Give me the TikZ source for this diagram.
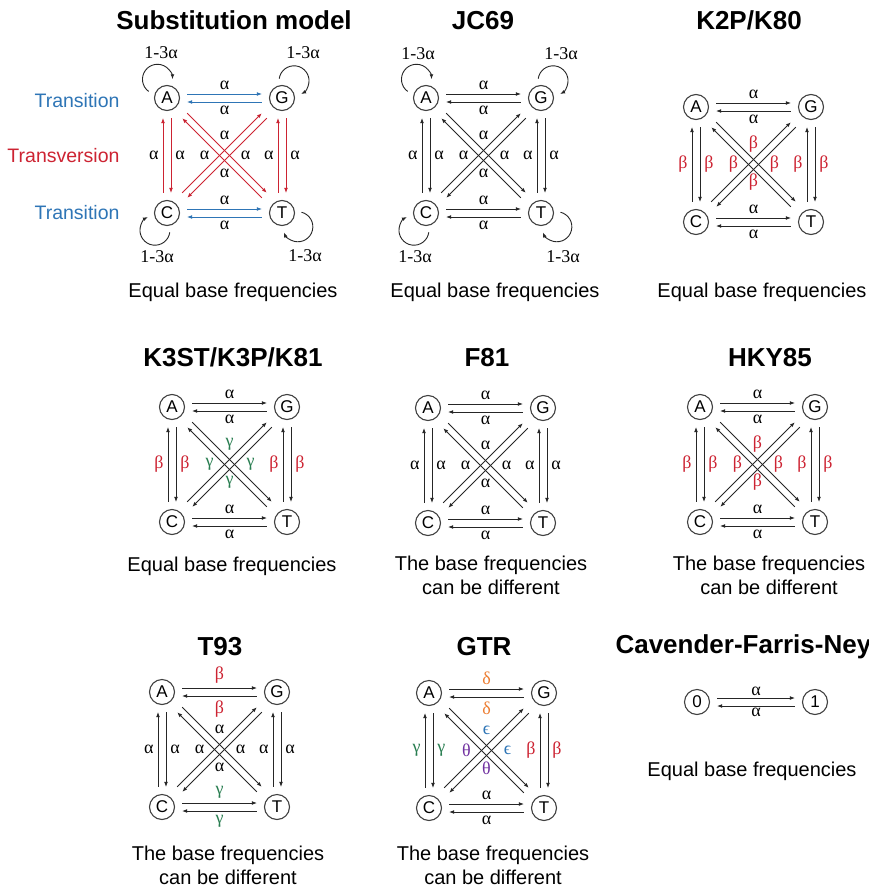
\documentclass[tikz,border=0pt]{standalone}
\usepackage{fontspec}
\setmainfont{Liberation Sans}
\newfontfamily\greekfont{Liberation Serif}
\usetikzlibrary{arrows.meta,calc}

\definecolor{tblue}{RGB}{46,117,182}
\definecolor{tred}{RGB}{205,35,50}
\definecolor{tgreen}{RGB}{40,125,80}
\definecolor{torange}{RGB}{237,125,49}
\definecolor{tpurple}{RGB}{112,48,160}
\definecolor{circ}{RGB}{64,64,64}
\definecolor{arr}{RGB}{38,38,38}

% four bases with the twelve rates between them
% #1 position of A, #2 A-G, #3 C-T, #4 A-C, #5 G-T, #6/#7 the two diagonal labels
\newcommand{\ratesquare}[7]{%
  \node[base] (A) at (#1) {A};
  \node[base] (G) at ($(A)+(115,0)$) {G};
  \node[base] (C) at ($(A)+(0,115)$) {C};
  \node[base] (T) at ($(A)+(115,115)$) {T};
  \coordinate (X) at ($(A)!.5!(T)$);
  % transitions
  \path[rate,ts] (A) edge[transform canvas={yshift=4pt}] node[above]{#2} (G)
                 (G) edge[transform canvas={yshift=-4pt}] node[below]{#2} (A)
                 (C) edge[transform canvas={yshift=4pt}] node[above]{#3} (T)
                 (T) edge[transform canvas={yshift=-4pt}] node[below]{#3} (C);
  % transversions
  \path[rate,tv] (C) edge[transform canvas={xshift=-4pt}] node[left]{#4} (A)
                 (A) edge[transform canvas={xshift=4pt}] node[right]{#4} (C)
                 (T) edge[transform canvas={xshift=-4pt}] node[left]{#5} (G)
                 (G) edge[transform canvas={xshift=4pt}] node[right]{#5} (T);
  \path[rate,tv,shorten >=12pt,shorten <=12pt]
                 (A) edge[transform canvas={xshift=2.5pt,yshift=2.5pt}] (T)
                 (T) edge[transform canvas={xshift=-2.5pt,yshift=-2.5pt}] (A)
                 (C) edge[transform canvas={xshift=-2.5pt,yshift=2.5pt}] (G)
                 (G) edge[transform canvas={xshift=2.5pt,yshift=-2.5pt}] (C);
  \node[lab] (d1) at ($(X)+(0,-20)$) {#6};
  \node[lab] (d2) at ($(X)+(21,0)$) {#6};
  \node[lab] (d3) at ($(X)+(-20,0)$) {#7};
  \node[lab] (d4) at ($(X)+(0,18)$) {#7};
}

% self loop on node #1, bulging towards angle #2
\newcommand{\selfloop}[2]{%
  \pgfmathsetmacro\lpstart{#2+117}%
  \pgfmathsetmacro\lpend{#2-117}%
  \draw[loopar] ($(#1)+(#2:21pt)+(\lpstart:15pt)$) arc[start angle=\lpstart, end angle=\lpend, radius=15pt];
}

\begin{document}
\begin{tikzpicture}[x=1pt,y=-1pt,>={Latex[length=5pt,width=3.8pt]},
    base/.style={circle, draw=circ, line width=1.1pt, minimum size=25pt, inner sep=0pt,
            font=\fontsize{17}{17}\selectfont},
    lab/.style={font=\greekfont\fontsize{18}{18}\selectfont, inner sep=4pt},
    rate/.style={->, line width=0.9pt, draw=arr, shorten >=7pt, shorten <=7pt, nodes={lab}},
    loopar/.style={->, line width=0.9pt, draw=arr},
    ts/.style={}, tv/.style={},
    title/.style={font=\fontsize{26}{30}\selectfont\bfseries, anchor=base},
    caption/.style={font=\fontsize{20}{23.5}\selectfont, anchor=base, align=center},
    side/.style={font=\fontsize{19.5}{22}\selectfont, anchor=base east}]

\useasboundingbox (0,0) rectangle (869,889);
\clip (0,0) rectangle (869,889);
\fill[white] (0,0) rectangle (869,889);

% substitution model
\begin{scope}[name prefix=sub-, ts/.style={draw=tblue}, tv/.style={draw=tred}]
  \node[title] (title) at (234,29) {Substitution model};
  \ratesquare{167,98}{α}{α}{α}{α}{α}{α}
  \selfloop{A}{117} \selfloop{G}{55} \selfloop{C}{-125} \selfloop{T}{-41}
  \node[lab] (lA) at ($(A)+(-6,-45)$) {1-3α};
  \node[lab] (lG) at ($(G)+(21,-45)$) {1-3α};
  \node[lab] (lC) at ($(C)+(-10,44)$) {1-3α};
  \node[lab] (lT) at ($(T)+(23,43)$) {1-3α};
  \node[side, text=tblue] (ts1) at (123,107) {Transition};
  \node[side, text=tred] (tv1) at (123,162) {Transversion};
  \node[side, text=tblue] (ts2) at (123,219) {Transition};
  \node[caption] (cap) at (233,297) {Equal base frequencies};
\end{scope}

% JC69
\begin{scope}[name prefix=jc-]
  \node[title] (title) at (483,29) {JC69};
  \ratesquare{426,98}{α}{α}{α}{α}{α}{α}
  \selfloop{A}{117} \selfloop{G}{55} \selfloop{C}{-125} \selfloop{T}{-41}
  \node[lab] (lA) at ($(A)+(-8,-44)$) {1-3α};
  \node[lab] (lG) at ($(G)+(20,-44)$) {1-3α};
  \node[lab] (lC) at ($(C)+(-11,44)$) {1-3α};
  \node[lab] (lT) at ($(T)+(22,44)$) {1-3α};
  \node[caption] (cap) at (495,297) {Equal base frequencies};
\end{scope}

% K2P/K80
\begin{scope}[name prefix=k2p-]
  \node[title] (title) at (749,29) {K2P/K80};
  \ratesquare{696,107}{α}{α}{\textcolor{tred}{β}}{\textcolor{tred}{β}}{\textcolor{tred}{β}}{\textcolor{tred}{β}}
  \node[caption] (cap) at (762,297) {Equal base frequencies};
\end{scope}

% K3ST/K3P/K81
\begin{scope}[name prefix=k3st-]
  \node[title] (title) at (233,366) {K3ST/K3P/K81};
  \ratesquare{172,407}{α}{α}{\textcolor{tred}{β}}{\textcolor{tred}{β}}{\textcolor{tgreen}{γ}}{\textcolor{tgreen}{γ}}
  \node[caption] (cap) at (232,571) {Equal base frequencies};
\end{scope}

% F81
\begin{scope}[name prefix=f81-]
  \node[title] (title) at (487,366) {F81};
  \ratesquare{428,408}{α}{α}{α}{α}{α}{α}
  \node[caption] (cap) at (491,594) {The base frequencies\\can be different};
\end{scope}

% HKY85
\begin{scope}[name prefix=hky-]
  \node[title] (title) at (770,366) {HKY85};
  \ratesquare{700,407}{α}{α}{\textcolor{tred}{β}}{\textcolor{tred}{β}}{\textcolor{tred}{β}}{\textcolor{tred}{β}}
  \node[caption] (cap) at (769,594) {The base frequencies\\can be different};
\end{scope}

% T93
\begin{scope}[name prefix=t93-]
  \node[title] (title) at (220,655) {T93};
  \ratesquare{162,692}{\textcolor{tred}{β}}{\textcolor{tgreen}{γ}}{α}{α}{α}{α}
  \node[caption] (cap) at (228,884) {The base frequencies\\can be different};
\end{scope}

% GTR
\begin{scope}[name prefix=gtr-]
  \node[title] (title) at (484,655) {GTR};
  \ratesquare{429,693}{\textcolor{torange}{δ}}{α}{\textcolor{tgreen}{γ}}{\textcolor{tred}{β}}{\textcolor{tblue}{ϵ}}{\textcolor{tpurple}{θ}}
  \node[caption] (cap) at (493,884) {The base frequencies\\can be different};
\end{scope}

% two states
\begin{scope}[name prefix=cfn-]
  \node[title, anchor=base west] (title) at (612,653) {Cavender-Farris-Ney};
  \node[base] (zero) at (697,702) {0};
  \node[base] (one) at ($(zero)+(118,0)$) {1};
  \path[rate, nodes={inner sep=1.5pt}]
        (zero) edge[transform canvas={yshift=4pt}] node[above]{α} (one)
        (one) edge[transform canvas={yshift=-4pt}] node[below]{α} (zero);
  \node[caption] (cap) at (752,776) {Equal base frequencies};
\end{scope}
\end{tikzpicture}
\end{document}
